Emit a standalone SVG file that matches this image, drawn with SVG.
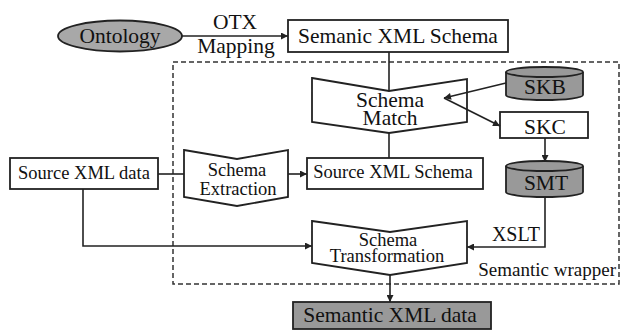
<svg xmlns="http://www.w3.org/2000/svg" width="623" height="330" viewBox="0 0 623 330">
<style>
.s{fill:none;stroke:#222;stroke-width:1.8}
.b{fill:#fff;stroke:#222;stroke-width:1.8}
.g{fill:#999;stroke:#222;stroke-width:1.8}
.t{font-family:"Liberation Serif","Times New Roman",serif;fill:#111;text-anchor:middle}
.L{font-size:21.5px}
.M{font-size:18.5px}
.a{fill:none;stroke:#222;stroke-width:1.6;marker-end:url(#ah)}
.l{fill:none;stroke:#222;stroke-width:1.6}
</style>
<defs>
<marker id="ah" viewBox="0 0 10 10" refX="10" refY="5" markerWidth="9" markerHeight="7" markerUnits="userSpaceOnUse" orient="auto">
<path d="M0,0 L10,5 L0,10 z" fill="#222"/>
</marker>
</defs>
<rect x="173" y="62" width="446" height="222" fill="none" stroke="#333" stroke-width="1.5" stroke-dasharray="5,3"/>
<text class="t" x="616" y="276" style="font-size:19px;text-anchor:end">Semantic wrapper</text>
<g id="ontology">
<ellipse cx="120" cy="36" rx="62" ry="15.5" fill="#a8a8a8" stroke="#222" stroke-width="1.8"/>
<text class="t L" x="120" y="43">Ontology</text>
</g>
<g id="semanic-xml-schema">
<rect class="b" x="288" y="20" width="220" height="32"/>
<text class="t L" x="398" y="43">Semanic XML Schema</text>
</g>
<g id="schema-match">
<path class="b" d="M312,78 L389,91 L467,79 L467,122 L389,133 L312,122 z"/>
<text class="t L" x="390" y="107">Schema</text>
<text class="t L" x="390" y="125">Match</text>
</g>
<g id="skb">
<path class="g" d="M506,72 L506,95 A38.5,5 0 0 0 583,95 L583,72"/>
<ellipse class="g" cx="544.5" cy="72" rx="38.5" ry="5"/>
<text class="t L" x="545" y="94">SKB</text>
</g>
<g id="skc">
<rect class="b" x="500" y="112" width="88" height="26"/>
<text class="t L" x="545" y="134">SKC</text>
</g>
<g id="smt">
<path class="g" d="M506,166 L506,192 A38.5,5 0 0 0 583,192 L583,166"/>
<ellipse class="g" cx="544.5" cy="166" rx="38.5" ry="5"/>
<text class="t L" x="546" y="190">SMT</text>
</g>
<g id="source-xml-data">
<rect class="b" x="10" y="158" width="148" height="31"/>
<text class="t M" x="84" y="179">Source XML data</text>
</g>
<g id="schema-extraction">
<path class="b" d="M184,150 L237,159 L288,150 L288,197 L237,206 L184,197 z"/>
<text class="t M" x="237" y="176">Schema</text>
<text class="t M" x="238" y="195">Extraction</text>
</g>
<g id="source-xml-schema">
<rect class="b" x="307" y="158" width="176" height="31"/>
<text class="t M" x="393" y="178">Source XML Schema</text>
</g>
<g id="schema-transformation">
<path class="b" d="M312,221 L390,232 L467,221 L467,263 L390,275 L312,263 z"/>
<text class="t M" x="388" y="246">Schema</text>
<text class="t M" x="387" y="262">Transformation</text>
</g>
<g id="semantic-xml-data">
<rect class="g" x="293" y="302" width="198" height="27"/>
<text class="t L" x="390" y="322">Semantic XML data</text>
</g>
<g id="connectors">
<path class="a" d="M182,36 L288,36"/>
<text class="t L" x="235" y="29">OTX</text>
<text class="t L" x="236" y="53">Mapping</text>
<path class="l" d="M389,52 L389,91"/>
<path class="l" d="M389,133 L389,158"/>
<path class="a" d="M506,83 L444,98"/>
<path class="a" d="M444,98 L500,126"/>
<path class="a" d="M545,138 L545,162"/>
<path class="l" d="M158,174 L184,174"/>
<path class="a" d="M288,174 L307,174"/>
<path class="a" d="M83,189 L83,246 L312,246"/>
<path class="a" d="M545,197 L545,247 L467,247"/>
<text class="t" x="516" y="241" style="font-size:20px">XSLT</text>
<path class="a" d="M390,275 L390,302"/>
</g>
</svg>
